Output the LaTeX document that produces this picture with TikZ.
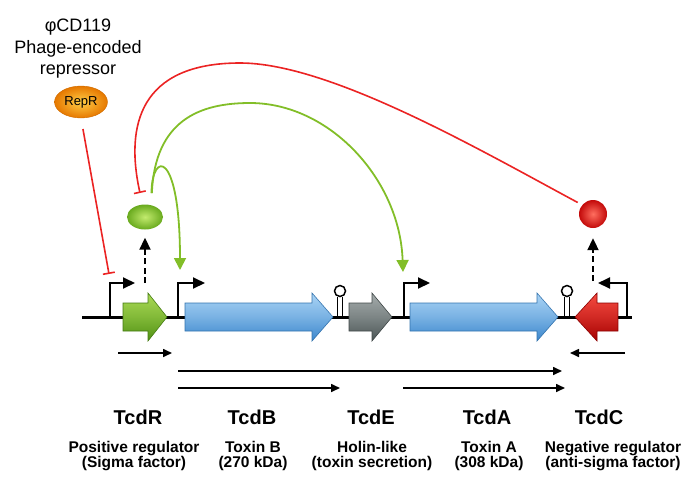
\documentclass[tikz,border=0pt]{standalone}
\usepackage{fontspec}
\setmainfont{Liberation Sans}
\usetikzlibrary{arrows.meta}
\usetikzlibrary{shapes.geometric}

\definecolor{bluL}{RGB}{170,212,245}
\definecolor{bluD}{RGB}{60,135,205}
\definecolor{grnL}{RGB}{170,218,85}
\definecolor{grnD}{RGB}{80,145,20}
\definecolor{gryL}{RGB}{165,172,172}
\definecolor{gryD}{RGB}{75,85,85}
\definecolor{redL}{RGB}{245,75,65}
\definecolor{redD}{RGB}{165,0,0}
\definecolor{reprL}{RGB}{255,205,70}
\definecolor{reprD}{RGB}{230,120,0}
\definecolor{sigmaL}{RGB}{195,235,110}
\definecolor{sigmaD}{RGB}{105,170,30}
\definecolor{antiL}{RGB}{255,110,95}
\definecolor{antiD}{RGB}{195,10,10}
\definecolor{inhred}{RGB}{235,35,35}
\definecolor{actgreen}{RGB}{130,190,40}

\newcommand{\genearrow}[5]{%
  \shade[top color=#4, bottom color=#5, middle color=#4!55!#5, draw=#5!85!black, line width=0.6pt]
    (#1,303) -- (#2,303) -- (#2,293) -- (#3,317) -- (#2,341) -- (#2,331) -- (#1,331) -- cycle;}
\newcommand{\hairpin}[1]{%
  \draw[line width=1.3pt] (#1-2.5,317) -- (#1-2.5,297) (#1+2.5,317) -- (#1+2.5,297);
  \draw[line width=1.5pt, fill=white] (#1,291) circle (5.5pt);}

\begin{document}
\begin{tikzpicture}[x=1pt, y=-1pt,
  prom/.style={line width=2pt, -{Triangle[length=12pt,width=11pt]}},
  inh/.style={inhred, line width=1.6pt, -{Bar[width=12pt,line width=1.6pt]}},
  act/.style={actgreen, line width=1.8pt, -{Triangle[length=12pt,width=12pt]}},
  transl/.style={line width=2pt, dash pattern=on 6pt off 3.5pt, -{Triangle[length=12pt,width=11pt]}},
  tx/.style={line width=1.6pt, -{Triangle[length=9pt,width=8pt]}},
  gene/.style={font=\bfseries\fontsize{20}{24}\selectfont, inner sep=0pt},
  desc/.style={font=\bfseries\fontsize{15.5}{15.5}\selectfont, align=center, inner sep=0pt}]
\useasboundingbox (0,0) rectangle (700,493);

\node[font=\fontsize{18}{21.5}\selectfont, align=center, inner sep=0pt] (phage) at (78,49) {φCD119\\Phage-encoded\\repressor};
\node[ellipse, inner color=reprL, outer color=reprD, draw=reprD!90!black, line width=0.4pt,
      minimum width=53pt, minimum height=32pt, inner sep=0pt,
      font=\fontsize{13}{13}\selectfont] (repr) at (81,102) {RepR};
\node[ellipse, inner color=sigmaL, outer color=sigmaD, minimum width=36pt, minimum height=25pt, inner sep=0pt] (sigR) at (145,217) {};
\node[circle, inner color=antiL, outer color=antiD, minimum size=28pt, inner sep=0pt] (antiC) at (593,214) {};

\draw[line width=3pt] (82,317) -- (632,317);
\genearrow{123}{148}{167}{grnL}{grnD}
\genearrow{185}{312}{333}{bluL}{bluD}
\genearrow{349}{372}{392}{gryL}{gryD}
\genearrow{410}{537}{558}{bluL}{bluD}
\genearrow{618}{597}{575}{redL}{redD}
\hairpin{340}
\hairpin{567}

\coordinate (pR) at (110,317);
\coordinate (pB) at (178,317);
\coordinate (pA) at (404,317);
\coordinate (pC) at (627,317);
\draw[prom] (pR) |- ++(25,-34);
\draw[prom] (pB) |- ++(27,-34);
\draw[prom] (pA) |- ++(26,-34);
\draw[prom] (pC) |- ++(-29,-34);

\coordinate (xR) at (145,283);
\coordinate (xC) at (593,281);
\draw[transl, shorten >=8pt] (xR) -- (sigR.south);
\draw[transl, shorten >=10pt] (xC) -- (antiC.south);

\coordinate (tRp) at (109,274);
\coordinate (tC) at (140,193);
\coordinate (tB) at (180,270);
\coordinate (tA) at (403,272);
\draw[inh, shorten <=11pt] (repr.south) -- (tRp);
\draw[inh, shorten <=5pt] (antiC.140) .. controls (480,150) and (330,63) .. (240,63)
  .. controls (140,63) and (125,125) .. (tC);
\draw[act, shorten <=12pt] (sigR.62) .. controls (152,150) and (180,150) .. (tB);
\draw[act, shorten <=12pt] (sigR.62) .. controls (155,120) and (200,103) .. (250,103)
  .. controls (330,103) and (400,180) .. (tA);

\draw[tx] (118,353) -- (172,353);
\draw[tx] (625,353) -- (570,353);
\draw[tx] (178,371) -- (562,371);
\draw[tx] (178,388) -- (340,388);
\draw[tx] (403,388) -- (565,388);

\node[gene] (gR) at (138,417) {TcdR};
\node[gene] (gB) at (252,417) {TcdB};
\node[gene] (gE) at (371,417) {TcdE};
\node[gene] (gA) at (487,417) {TcdA};
\node[gene] (gC) at (599,417) {TcdC};
\node[desc] (dR) at (134,456) {Positive regulator\\(Sigma factor)};
\node[desc] (dB) at (253,456) {Toxin B\\(270 kDa)};
\node[desc] (dE) at (372,456) {Holin-like\\(toxin secretion)};
\node[desc] (dA) at (489,456) {Toxin A\\(308 kDa)};
\node[desc] (dC) at (613,456) {Negative regulator\\(anti-sigma factor)};
\end{tikzpicture}
\end{document}
